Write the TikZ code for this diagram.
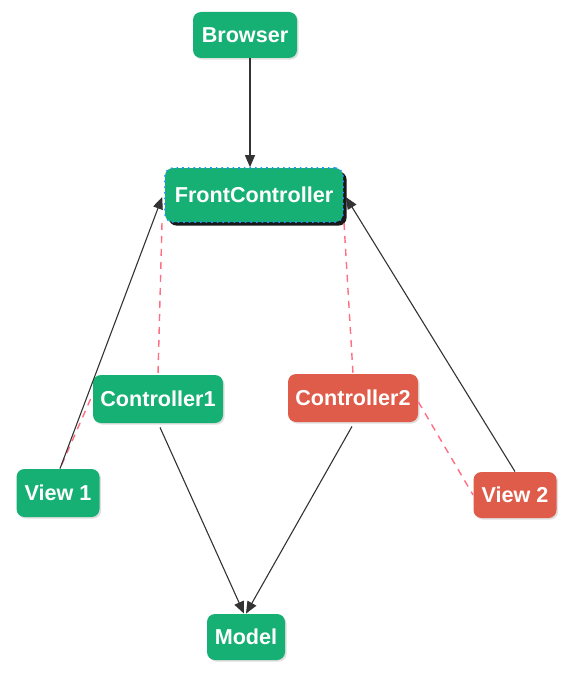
\documentclass[tikz,border=0pt]{standalone}
\usepackage{fontspec}
\setmainfont{Liberation Sans}
\usetikzlibrary{shadows,arrows.meta}
\definecolor{gbox}{RGB}{22,176,116}
\definecolor{rbox}{RGB}{224,92,74}
\definecolor{dashred}{RGB}{255,110,130}
\definecolor{dotblue}{RGB}{40,150,230}
\tikzset{
  box/.style={rounded corners=4pt, text=white, font=\bfseries\fontsize{10.8}{12}\selectfont,
    inner sep=0pt, drop shadow={shadow xshift=0.8pt, shadow yshift=-0.8pt, opacity=0.25}},
  gnode/.style={box, fill=gbox},
  rnode/.style={box, fill=rbox},
  arr/.style={draw=black!80, line width=0.55pt, -{Triangle[length=6pt,width=5pt]}},
  dsh/.style={draw=dashred, line width=0.7pt, dash pattern=on 3.5pt off 3pt},
}
\begin{document}
\begin{tikzpicture}[x=0.5pt,y=-0.5pt]
\useasboundingbox (0,0) rectangle (571,674);
\node[gnode, minimum width=52pt, minimum height=23pt] (browser) at (245,35) {Browser};
\node[box, fill=gbox, draw=dotblue, dotted, line width=0.8pt, minimum width=89pt, minimum height=27pt,
  drop shadow={shadow xshift=1.8pt, shadow yshift=-1.8pt, opacity=0.9, fill=black}] (fc) at (254,195) {FrontController};
\node[gnode, minimum width=65pt, minimum height=24pt] (c1) at (158,399) {Controller1};
\node[rnode, minimum width=65pt, minimum height=24pt] (c2) at (353,398) {Controller2};
\node[gnode, minimum width=41.5pt, minimum height=24pt] (v1) at (58,493) {View 1};
\node[rnode, minimum width=41.5pt, minimum height=23pt] (v2) at (515,495) {View 2};
\node[gnode, minimum width=39pt, minimum height=23pt] (model) at (246,637) {Model};

% dashed relations
\draw[dsh] ([xshift=-46pt,yshift=-14pt]fc.center) -- (c1.north);
\draw[dsh] ([xshift=45pt,yshift=-14pt]fc.center) -- (c2.north);
\draw[dsh] ([xshift=-1pt]c1.west) -- ([xshift=1pt]v1.north);
\draw[dsh] ([yshift=-2pt]c2.east) -- (v2.west);

% arrows
\draw[arr] (browser.south) ++(2.5pt,0) coordinate (bs) -- (bs |- fc.north);
\draw[arr] ([xshift=1pt]v1.north) -- ([xshift=-1pt,yshift=-1pt]fc.west);
\draw[arr] (v2.north) -- ([xshift=1pt,yshift=-1pt]fc.east);
\draw[arr] ([xshift=1pt,yshift=-2pt]c1.south) -- ([xshift=-1pt]model.north);
\draw[arr] ([xshift=-0.5pt,yshift=-2pt]c2.south) -- (model.north);
\end{tikzpicture}
\end{document}
